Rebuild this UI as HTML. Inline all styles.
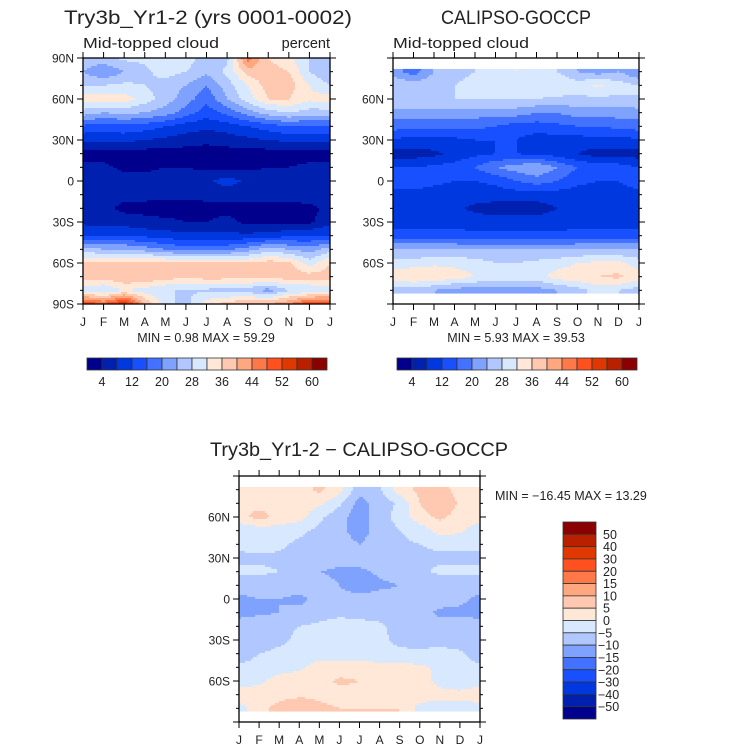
<!DOCTYPE html>
<html><head><meta charset="utf-8">
<style>
html,body{margin:0;padding:0;background:#fff;}
svg{display:block;font-family:"Liberation Sans",sans-serif;}
</style></head>
<body>
<svg id="fig" width="732" height="751" viewBox="0 0 732 751" xmlns="http://www.w3.org/2000/svg">
<g id="p1"></g>
<g id="p2"></g>
<g id="p3"></g>
</svg>
<script>
// ---- data ----
const months = ["J","F","M","A","M","J","J","A","S","O","N","D","J"];
const lats1 = [90,80,70,60,50,40,30,20,10,0,-10,-20,-30,-40,-50,-60,-70,-80,-90];
const lats2 = [80,70,60,50,40,30,20,10,0,-10,-20,-30,-40,-50,-60,-70,-80];
const absLevels = [4,8,12,16,20,24,28,32,36,40,44,48,52,56,60];
const absLabels = ["4","12","20","28","36","44","52","60"];
const diffLevels = [-50,-40,-30,-20,-15,-10,-5,0,5,10,15,20,30,40,50];
const diffLabels = ["50","40","30","20","15","10","5","0","\u22125","\u221210","\u221215","\u221220","\u221230","\u221240","\u221250"];
const colors = ["#00008c","#0020b0","#0038e0","#1850ff","#4272ff","#80a2ff","#b0c8ff","#d8e8ff","#ffe8d8","#ffc8b0","#ffa880","#ff7848","#ff5020","#e03800","#b82000","#8b0000"];
const model = [
[27,27,29,29,30,30,26,27,46,36,33,28,27],
[24,20,24,27,30,28,25,29,38,38,36,28,24],
[28,28,29,28,26,24,20,26,32,38,38,32,28],
[34,34,34,30,26,22,17,24,30,36,36,33,34],
[26,24,25,24,22,18,14,17,22,26,28,26,26],
[15,14,15,14,12,10,9,10,12,14,16,15,15],
[9,9,9,8,7,6,5,6,7,8,9,9,9],
[2,2,2,2,2,2,2,2,2,2,2,2,2],
[5,5,3,3,4,4,3,3,3,4,4,5,5],
[7,6,6,6,6,6,7,10,7,6,6,6,7],
[6,6,5,5,5,5,5,5,5,5,5,6,6],
[6,5,3,3,2,2,3,3,3,3,3,3,5],
[7,6,6,5,5,4,4,5,3,3,3,3,7],
[12,12,12,11,10,9,9,9,9,10,11,12,12],
[26,24,24,22,20,18,18,19,22,26,24,22,26],
[36,37,38,38,37,36,36,36,36,38,37,30,36],
[38,38,40,40,38,37,38,38,38,38,38,38,38],
[30,28,32,30,28,28,27,26,26,22,28,28,30],
[52,48,56,40,30,26,34,38,40,40,44,52,52]];
const obs = [
[22,18,24,26,28,28,32,30,28,24,22,24,20],
[28,26,27,28,30,30,30,32,32,30,33,30,28],
[28,28,28,28,28,28,28,28,27,27,27,27,28],
[22,22,22,22,22,22,22,20,20,22,22,22,22],
[18,17,17,17,17,16,14,14,15,16,16,17,18],
[11,11,11,11,12,12,12,10,10,10,11,11,11],
[6,6,7,9,11,12,12,11,10,8,6,6,6],
[12,12,13,14,16,20,22,24,20,16,14,14,12],
[15,15,13,12,12,13,16,18,16,13,12,12,15],
[10,10,10,10,10,10,10,10,10,10,10,10,10],
[10,10,9,9,7,6,6,6,8,9,10,10,10],
[10,10,10,10,10,10,10,10,10,10,10,10,10],
[14,14,14,14,13,13,13,13,13,14,14,14,14],
[24,24,24,24,24,24,24,24,24,24,24,24,24],
[30,30,31,31,30,28,28,29,30,32,33,33,30],
[34,36,36,34,32,30,30,30,34,35,36,37,34],
[26,26,24,22,22,22,22,22,24,26,30,28,26]];
const diff = [
[3,4,1,3,6,2,-8,-6,3,6,7,3,3],
[5,3,5,3,1,-4,-12,-8,-4,5,10,4,5],
[3,7,3,2,-4,-8,-13,-7,-3,3,6,3,3],
[-4,-3,-2,-4,-6,-9,-12,-8,-5,-3,2,1,-4],
[-4,-3,-4,-6,-7,-8,-10,-8,-6,-5,-4,-4,-4],
[-6,-6,-6,-7,-7,-8,-8,-7,-7,-6,-6,-6,-6],
[-4,-4,-5,-7,-10,-11,-11,-9,-8,-6,-4,-4,-4],
[-8,-8,-8,-8,-8,-10,-14,-11,-10,-9,-9,-9,-8],
[-11,-10,-10,-11,-9,-8,-7,-8,-8,-8,-8,-9,-11],
[-12,-11,-10,-9,-7,-6,-7,-7,-7,-8,-11,-11,-12],
[-7,-6,-6,-5,-4,-3,-3,-4,-7,-8,-8,-8,-7],
[-9,-7,-6,-4,-3,-3,-4,-4,-6,-7,-7,-8,-9],
[-8,-5,-4,-3,-2,-3,-3,-4,-4,-4,-3,-4,-8],
[-4,-3,-2,-1,2,2,3,2,2,1,-1,-3,-4],
[-2,-1,2,3,3,6,5,4,3,3,-2,-4,-2],
[3,2,3,4,4,3,3,3,3,3,2,2,3],
[-2,3,7,9,6,5,5,5,5,-2,-3,-3,-2]];

const NS="http://www.w3.org/2000/svg";
function mk(parent,tag,attrs,text){const e=document.createElementNS(NS,tag);for(const k in attrs)e.setAttribute(k,attrs[k]);if(text!==undefined)e.textContent=text;parent.appendChild(e);return e;}

function sample(lats,vals,mon,lat){
  let i;
  if(lat>=lats[0]) i=0; else if(lat<=lats[lats.length-1]) i=lats.length-2; else {i=0;while(!(lats[i]>=lat&&lats[i+1]<=lat))i++;}
  let t=(lats[i]-lat)/(lats[i]-lats[i+1]); t=Math.max(0,Math.min(1,t));
  let j=Math.max(0,Math.min(11,Math.floor(mon))); let s=Math.max(0,Math.min(1,mon-j));
  const a=vals[i][j],b=vals[i][j+1],c=vals[i+1][j],d=vals[i+1][j+1];
  return (a*(1-s)+b*s)*(1-t)+(c*(1-s)+d*s)*t;
}
function level(levels,v){let k=0;while(k<levels.length&&v>=levels[k])k++;return k;}

function panel(g,o){
  const x0=o.x0,x1=o.x1,y0=o.y0,y1=o.y1;
  const xs=m=>x0+(x1-x0)*m/12;
  const ys=lat=>y0+(y1-y0)*(90-lat)/180;
  const field=mk(g,"g",{});
  
  
  const step=2;
  const top=ys(o.latMax), bot=ys(-o.latMax);
  const nx=Math.ceil((x1-x0)/step), ny=Math.ceil((bot-top)/step);
  for(let r=0;r<ny;r++){
    const y=top+r*step, h=Math.min(step,bot-y);
    const lat=90-((y+h/2)-y0)/(y1-y0)*180;
    let runStart=0,runC=-1;
    for(let c=0;c<=nx;c++){
      let col=-2;
      if(c<nx){const xc=x0+c*step+step/2;const m=(Math.min(xc,x1)-x0)/(x1-x0)*12;col=level(o.levels,sample(o.lats,o.vals,m,lat));}
      if(col!==runC){
        if(runC>=0){
          const xa=x0+runStart*step, xb=Math.min(x1,x0+c*step);
          const rc=mk(field,"rect",{x:xa,y:y,width:xb-xa+0.5,height:h+0.5,fill:colors[runC]});
          
          
        }
        runStart=c;runC=col;
      }
    }
  }
  const fr=mk(g,"rect",{x:x0,y:y0,width:x1-x0,height:y1-y0,fill:"none",stroke:"#000","stroke-width":1.3});
  
  
  for(let m=0;m<=12;m++){
    const x=xs(m);
    mk(g,"line",{x1:x,x2:x,y1:y0,y2:y0-6,stroke:"#000","stroke-width":1});
    mk(g,"line",{x1:x,x2:x,y1:y1,y2:y1+6,stroke:"#000","stroke-width":1});
    const t=mk(g,"text",{x:x,y:y1+22,"font-size":12,"text-anchor":"middle",fill:"#222"},months[m]);
    
    
  }
  for(let lat=-90;lat<=90;lat+=10){
    const y=ys(lat),maj=lat%30===0,L=maj?6:3;
    mk(g,"line",{x1:x0,x2:x0-L,y1:y,y2:y,stroke:"#000","stroke-width":1});
    mk(g,"line",{x1:x1,x2:x1+L,y1:y,y2:y,stroke:"#000","stroke-width":1});
    if(maj && (o.full || Math.abs(lat)<90)){
      const lab=lat===0?"0":(Math.abs(lat)+(lat>0?"N":"S"));
      const t=mk(g,"text",{x:x0-9,y:y+4.5,"font-size":12,"text-anchor":"end",fill:"#222"},lab);
      
      
    }
  }
}

function hbar(g,x,y,w,h){
  const n=colors.length,bw=w/n;
  for(let i=0;i<n;i++){
    const r=mk(g,"rect",{x:x+i*bw,y:y,width:bw,height:h,fill:colors[i],stroke:"#333","stroke-width":0.8});
    
    
  }
  absLabels.forEach((l,k)=>{const t=mk(g,"text",{x:x+bw*(1+2*k),y:y+h+16,"font-size":12.5,"text-anchor":"middle",fill:"#222"},l);
    
    });
}

const p1=document.getElementById('p1'),p2=document.getElementById('p2'),p3=document.getElementById('p3');
panel(p1,{x0:83,x1:330,y0:58,y1:304,lats:lats1,vals:model,levels:absLevels,latMax:90,full:true});
panel(p2,{x0:393,x1:639,y0:58,y1:304,lats:lats2,vals:obs,levels:absLevels,latMax:82,full:false});
panel(p3,{x0:239,x1:480,y0:476,y1:722,lats:lats2,vals:diff,levels:diffLevels,latMax:82,full:false});

function txt(g,name,attrs,s){const t=mk(g,"text",Object.assign({fill:"#222"},attrs),s);return t;}
txt(p1,'title',{x:64,y:24,"font-size":19,textLength:288,lengthAdjust:"spacingAndGlyphs"},"Try3b_Yr1-2 (yrs 0001-0002)");
txt(p1,'subtitle',{x:83,y:48,"font-size":14.5,textLength:136,lengthAdjust:"spacingAndGlyphs"},"Mid-topped cloud");
txt(p1,'units-label',{x:330,y:48,"font-size":14.5,"text-anchor":"end"},"percent");
txt(p1,'min-max-label',{x:206,y:342,"font-size":12.5,"text-anchor":"middle","xml:space":"preserve"},"MIN =    0.98  MAX =   59.29");
hbar(p1,87,358,240,12);
txt(p2,'title',{x:516,y:24,"font-size":19,"text-anchor":"middle",textLength:150,lengthAdjust:"spacingAndGlyphs"},"CALIPSO-GOCCP");
txt(p2,'subtitle',{x:393,y:48,"font-size":14.5,textLength:136,lengthAdjust:"spacingAndGlyphs"},"Mid-topped cloud");
txt(p2,'min-max-label',{x:516,y:342,"font-size":12.5,"text-anchor":"middle","xml:space":"preserve"},"MIN =    5.93  MAX =   39.53");
hbar(p2,397,358,240,12);
txt(p3,'title',{x:210,y:456,"font-size":19,textLength:298,lengthAdjust:"spacingAndGlyphs"},"Try3b_Yr1-2 \u2212 CALIPSO-GOCCP");
txt(p3,'min-max-label',{x:495,y:500,"font-size":12.5,"xml:space":"preserve"},"MIN = \u221216.45  MAX =   13.29");
(function(){
  const x=563,y=522,w=33,h=197,n=colors.length,bh=h/n;
  for(let i=0;i<n;i++){
    const r=mk(p3,"rect",{x:x,y:y+i*bh,width:w,height:bh,fill:colors[n-1-i],stroke:"#333","stroke-width":0.8});
    
    
  }
  diffLabels.forEach((l,k)=>{const t=mk(p3,"text",{x:l.startsWith("\u2212")?598:603,y:y+bh*(k+1)+4.5,"font-size":12.5,fill:"#222"},l);
    
    });
})();
</script>
</body></html>
